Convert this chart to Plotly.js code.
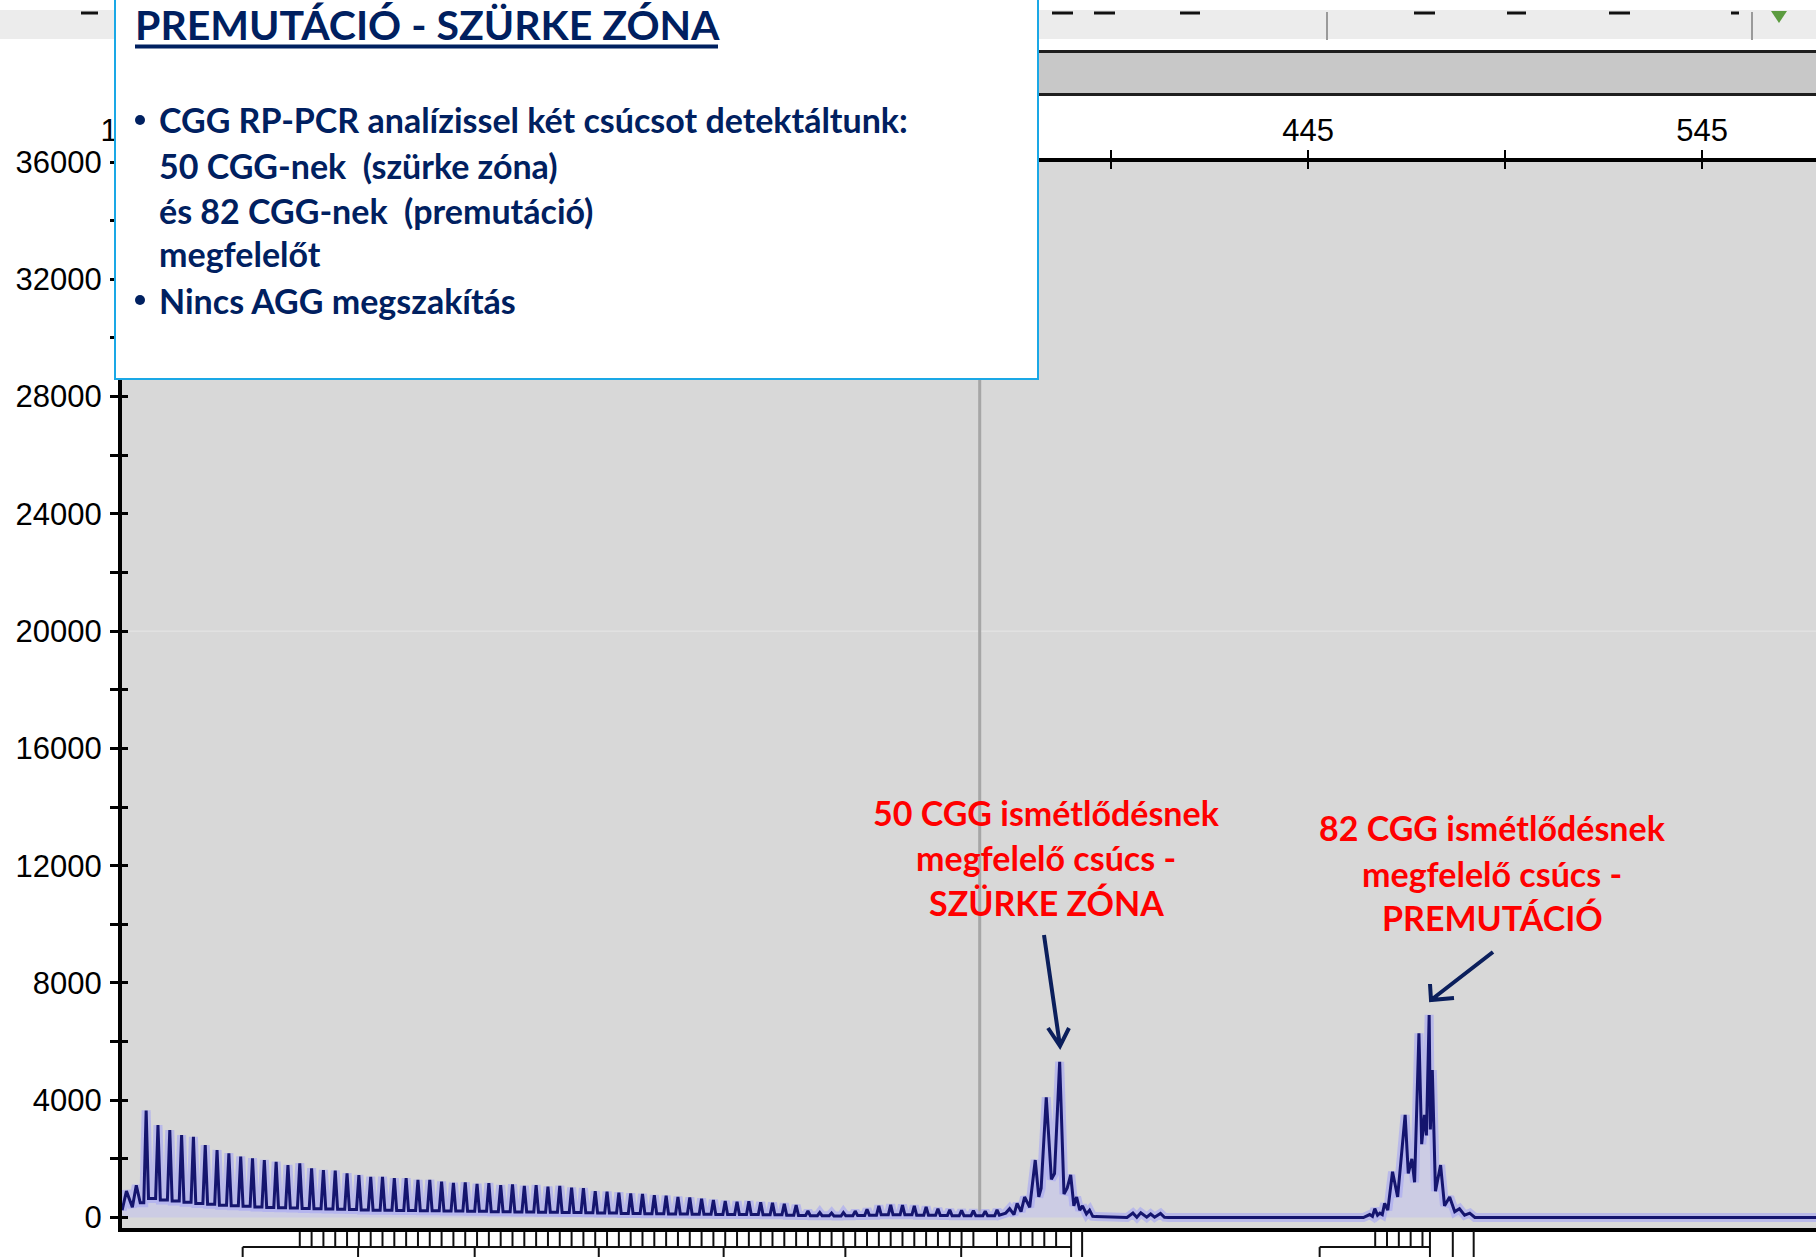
<!DOCTYPE html>
<html><head><meta charset="utf-8">
<script src="https://cdn.plot.ly/plotly-3.0.1.min.js"></script>
<style>html,body{margin:0;padding:0;background:#fff;overflow:hidden}#chart{width:1816px;height:1257px}</style>
</head><body><div id="chart"></div>
<script>
// ---------- DATA (fragment size in bp, signal in RFU) ----------
const preX = [143.9, 145, 146.5, 147.5, 148.5];
const preY = [250, 900, 350, 1100, 500];

const ladderX = [150,153,156,159,162,165,168,171,174,177,
  180,183,186,189,192,195,198,201,204,207,
  210,213,216,219,222,225,228,231,234,237,
  240,243,246,249,252,255,258,261,264,267,
  270,273,276,279,282,285,288,291,294,297,
  300,303,306,309,312,315,318,321,324,327,
  330,333,336,339,342,345,348,351,354,357,
  360,363,366];
const ladderPeak = [3650,3150,2980,2810,2750,2470,2300,2190,2080,2020,
  1960,1900,1790,1850,1680,1620,1600,1510,1450,1390,
  1390,1340,1340,1280,1280,1220,1180,1200,1150,1170,
  1100,1130,1080,1100,1050,1080,1020,1000,900,880,
  850,820,800,760,740,700,680,640,600,560,
  540,550,520,500,470,420,220,170,150,170,
  220,280,400,430,420,400,360,300,260,240,
  230,220,260];
const ladderValley = [650,600,560,520,480,450,420,400,380,360,
  340,330,320,310,300,290,280,270,260,250,
  250,240,240,230,230,220,220,210,210,200,
  200,190,190,180,180,170,170,160,150,150,
  140,140,130,130,120,120,110,110,100,100,
  100,100,90,90,80,70,60,60,50,60,
  70,80,90,90,90,80,80,70,60,60,
  60,60,80];

const clusterAX = [368.2, 369.2, 370.3, 371.1, 372.1, 373.0, 374.3, 375.7, 376.6, 377.2, 378.5, 379.8, 380.6, 381.9, 383.0, 383.8, 384.7, 385.5, 386.2, 387.0, 387.7, 388.7, 389.5, 390.3];
const clusterAY = [150, 300, 100, 480, 200, 700, 350, 1960, 700, 1000, 4100, 1300, 1500, 5310, 800, 1000, 1450, 400, 700, 250, 400, 120, 250, 40];

const gapX = [391, 399, 400.5, 401.5, 402.5, 404, 405, 406, 407.5, 408.5, 409.5, 459];
const gapY = [30, 0, 150, 10, 160, 10, 120, 10, 140, 10, 0, 0];

const clusterBX = [460.6, 461.3, 461.9, 462.6, 463.2, 463.8, 464.4, 465.2, 466.4, 467.7, 469.6, 470.4, 471.3, 472.0, 473.1, 473.8, 474.5, 475.0, 475.7, 476.0, 476.5, 477.3, 478.6, 479.6, 480.9, 482.2, 483.4, 484.7, 486.0, 487.3, 574];
const clusterBY = [100, 40, 300, 80, 150, 100, 480, 250, 1560, 700, 3500, 1500, 2000, 1200, 6280, 2500, 3500, 2800, 6910, 3000, 5030, 900, 1790, 400, 700, 200, 300, 80, 150, 0, 0];

const cursorLine = [361.6];

// top x-axis ticks (245 and 345 lie under the text box, so their labels stay blank)
const xTickVals = [145, 245, 345, 445, 545];
const xTickText = ['145', '', '', '445', '545'];
const xMinorVals = [195, 295, 395, 495];

// bins panel under the plot
const binTicks = [189,192,195,198,201,204,207,210,213,216,219,222,225,228,231,234,237,240,243,246,249,252,255,258,261,264,267,270,273,276,279,282,285,288,291,294,297,300,303,306,309,312,315,318,321,324,327,330,333,336,339,342,345,348,351,354,357,360,
  366,369,372,375,378,381, 462,465,468,471,474];
const binSeparators = [174.5, 203.8, 233.4, 264.9, 296.6, 327.5, 356.9, 447.9];
const binLong = [384.8, 387.6, 475.9, 481.7, 487.0];
const binBracketStart = [174.5, 447.9];
const binBracketEnd = [384.8, 475.9];

// ---------- BUILD ----------
const sigX = [], sigY = [];
preX.forEach((x,i)=>{sigX.push(x); sigY.push(preY[i]);});
ladderX.forEach((x,i)=>{
  const prevV = i === 0 ? preY[preY.length-1] : ladderValley[i-1];
  sigX.push(x-0.6); sigY.push(prevV);
  sigX.push(x); sigY.push(ladderPeak[i]);
  sigX.push(x+0.6); sigY.push(ladderValley[i]);
});
clusterAX.forEach((x,i)=>{sigX.push(x); sigY.push(clusterAY[i]);});
gapX.forEach((x,i)=>{sigX.push(x); sigY.push(gapY[i]);});
clusterBX.forEach((x,i)=>{sigX.push(x); sigY.push(clusterBY[i]);});

const binX = [], binY = [];
binTicks.forEach(b=>{binX.push(b,b,null); binY.push(0.96,0.42,null);});
binSeparators.forEach(b=>{binX.push(b,b,null); binY.push(0.38,0,null);});
binLong.forEach(b=>{binX.push(b,b,null); binY.push(1,0,null);});
binBracketStart.forEach((b,i)=>{binX.push(b,binBracketEnd[i],null); binY.push(0.38,0.38,null);});

const W=1816, H=1257, L=122, T=162;
const PX = x => (x - L)/(W - L);
const PY = y => (H - y)/(H - T);
const yDomBottom = PY(1228);

const navy = '#002060';
const tickFont = {family:'Liberation Sans, Arial, sans-serif', size:31, color:'#000'};
const txtFamily = 'Lato, "Noto Sans", sans-serif';

const traces = [
  {x:sigX, y:sigY, xaxis:'x', yaxis:'y', type:'scatter', mode:'lines', fill:'tozeroy', fillcolor:'rgba(190,190,245,0.45)',
    line:{color:'rgba(165,165,245,0.6)', width:9}, hoverinfo:'skip'},
  {x:sigX, y:sigY, xaxis:'x2', yaxis:'y2', type:'scatter', mode:'lines', line:{color:'#15156e', width:3}, hoverinfo:'skip'},
  {x:binX, y:binY, xaxis:'x', yaxis:'y3', type:'scatter', mode:'lines', line:{color:'#111', width:2}, hoverinfo:'skip', connectgaps:false}
];

const shapes = [];
shapes.push({type:'rect', xref:'paper', yref:'paper', x0:0, x1:1, y0:yDomBottom, y1:1, fillcolor:'#d8d8d8', line:{width:0}, layer:'below'});
shapes.push({type:'line', xref:'paper', yref:'y', x0:0, x1:1, y0:20000, y1:20000, line:{color:'#e6e6e6', width:1}, layer:'below'});
shapes.push({type:'line', xref:'x', yref:'y', x0:cursorLine[0], x1:cursorLine[0], y0:0, y1:36000, line:{color:'#a6a6a6', width:3}, layer:'below'});
// header
shapes.push({type:'rect', xref:'paper', yref:'paper', x0:PX(0), x1:PX(1816), y0:PY(39), y1:PY(10), fillcolor:'#ececec', line:{width:0}});
[[81,98],[1052,1073],[1094,1115],[1180,1200],[1414,1435],[1507,1526],[1609,1630],[1731,1739]].forEach(d=>{
  shapes.push({type:'rect', xref:'paper', yref:'paper', x0:PX(d[0]), x1:PX(d[1]), y0:PY(14.5), y1:PY(11.5), fillcolor:'#111', line:{width:0}});
});
[1327,1752].forEach(x=>shapes.push({type:'line', xref:'paper', yref:'paper', x0:PX(x), x1:PX(x), y0:PY(40), y1:PY(12), line:{color:'#9a9a9a', width:2}}));
shapes.push({type:'path', xref:'paper', yref:'paper', path:`M${PX(1771)},${PY(11)} L${PX(1787)},${PY(11)} L${PX(1779)},${PY(23)} Z`, fillcolor:'#5b9b3f', line:{width:0}});
shapes.push({type:'rect', xref:'paper', yref:'paper', x0:PX(122), x1:PX(1816), y0:PY(93), y1:PY(53), fillcolor:'#c8c8c8', line:{width:0}});
shapes.push({type:'line', xref:'paper', yref:'paper', x0:PX(122), x1:PX(1816), y0:PY(51.5), y1:PY(51.5), line:{color:'#1e1e1e', width:3}});
shapes.push({type:'line', xref:'paper', yref:'paper', x0:PX(122), x1:PX(1816), y0:PY(94.5), y1:PY(94.5), line:{color:'#1e1e1e', width:3}});
// text box
shapes.push({type:'rect', xref:'paper', yref:'paper', x0:PX(115), x1:PX(1038), y0:PY(379), y1:PY(-5), fillcolor:'#fff', line:{color:'#1aa8e6', width:2}, layer:'above'});
shapes.push({type:'line', xref:'paper', yref:'paper', x0:PX(135), x1:PX(718), y0:PY(46.5), y1:PY(46.5), line:{color:navy, width:4}, layer:'above'});
// bullets as small discs
[120, 300].forEach(y=>shapes.push({type:'circle', xref:'paper', yref:'paper', x0:PX(135), x1:PX(145), y0:PY(y+5), y1:PY(y-5), fillcolor:navy, line:{width:0}, layer:'above'}));
// arrows
function arrowPath(s, t, a1, a2){
  return `M${PX(s[0])},${PY(s[1])} L${PX(t[0])},${PY(t[1])} M${PX(a1[0])},${PY(a1[1])} L${PX(t[0])},${PY(t[1])} L${PX(a2[0])},${PY(a2[1])}`;
}
shapes.push({type:'path', xref:'paper', yref:'paper', path:arrowPath([1044,935],[1060,1046],[1048,1028],[1069,1028]), line:{color:'#0b1f5c', width:4}, layer:'above'});
shapes.push({type:'path', xref:'paper', yref:'paper', path:arrowPath([1493,952],[1431,1000],[1430,984],[1454,998]), line:{color:'#0b1f5c', width:4}, layer:'above'});

const ann = [];
function addText(text, x, y, size, color, anchor){
  ann.push({xref:'paper', yref:'paper', x:PX(x), y:PY(y), text:text, showarrow:false, xanchor:anchor||'left', yanchor:'middle',
    font:{family:txtFamily, size:size, color:color}});
}
addText('<b>PREMUTÁCIÓ - SZÜRKE ZÓNA</b>', 133, 24, 41, navy);
const bSize = 34;
addText('<b>CGG RP-PCR analízissel két csúcsot detektáltunk:</b>', 157, 120, bSize, navy);
addText('<b>50 CGG-nek \u00a0(szürke zóna)</b>', 157, 165, bSize, navy);
addText('<b>és 82 CGG-nek \u00a0(premutáció)</b>', 157, 210, bSize, navy);
addText('<b>megfelelőt</b>', 157, 254, bSize, navy);
addText('<b>Nincs AGG megszakítás</b>', 157, 300, bSize, navy);
const red = '#ff0000';
addText('<b>50 CGG ismétlődésnek</b>', 1046, 812, bSize, red, 'center');
addText('<b>megfelelő csúcs -</b>', 1046, 857, bSize, red, 'center');
addText('<b>SZÜRKE ZÓNA</b>', 1046, 902, bSize, red, 'center');
addText('<b>82 CGG ismétlődésnek</b>', 1492, 828, bSize, red, 'center');
addText('<b>megfelelő csúcs -</b>', 1492, 873, bSize, red, 'center');
addText('<b>PREMUTÁCIÓ</b>', 1492, 917, bSize, red, 'center');

const xRange = [143.87, 573.9];
const yRange = [-358, 36000];

const layout = {
  width:W, height:H, margin:{l:L, r:0, t:T, b:0, pad:0},
  paper_bgcolor:'#fff', plot_bgcolor:'#fff', showlegend:false,
  xaxis:{range:xRange, side:'top', anchor:'y', domain:[0,1], tickmode:'array', tickvals:xTickVals, ticktext:xTickText,
    ticks:'outside', ticklen:8, tickwidth:2, tickcolor:'#000', showline:true, linecolor:'#000', linewidth:4, mirror:true,
    showgrid:false, zeroline:false, tickfont:tickFont, ticklabelstandoff:-3,
    minor:{tickmode:'array', tickvals:xMinorVals, ticks:'outside', ticklen:8, tickwidth:2, tickcolor:'#000', showgrid:false}},
  xaxis2:{range:xRange, overlaying:'x', side:'top', anchor:'y2', tickmode:'array', tickvals:xTickVals, ticks:'inside', ticklen:7, tickwidth:2, tickcolor:'#000',
    showticklabels:false, showline:false, showgrid:false, zeroline:false,
    minor:{tickmode:'array', tickvals:xMinorVals, ticks:'inside', ticklen:7, tickwidth:2, tickcolor:'#000', showgrid:false}},
  yaxis:{range:yRange, domain:[yDomBottom,1], anchor:'x', tick0:0, dtick:4000, tickformat:'d', ticks:'outside', ticklen:8, tickwidth:3, tickcolor:'#000',
    showline:true, linecolor:'#000', linewidth:4, showgrid:false, zeroline:false, tickfont:tickFont, ticklabelstandoff:2,
    minor:{tick0:0, dtick:2000, ticks:'outside', ticklen:8, tickwidth:3, tickcolor:'#000', showgrid:false}},
  yaxis2:{range:yRange, domain:[yDomBottom,1], overlaying:'y', anchor:'x2', side:'left', tick0:0, dtick:4000, ticks:'inside', ticklen:6, tickwidth:3, tickcolor:'#000',
    showticklabels:false, showline:false, showgrid:false, zeroline:false,
    minor:{tick0:0, dtick:2000, ticks:'inside', ticklen:6, tickwidth:3, tickcolor:'#000', showgrid:false}},
  yaxis3:{range:[0,1], domain:[0, PY(1231)], anchor:'x', showticklabels:false, ticks:'', showline:false, showgrid:false, zeroline:false},
  shapes:shapes, annotations:ann
};
Plotly.newPlot('chart', traces, layout, {displayModeBar:false, staticPlot:true});
</script></body></html>
